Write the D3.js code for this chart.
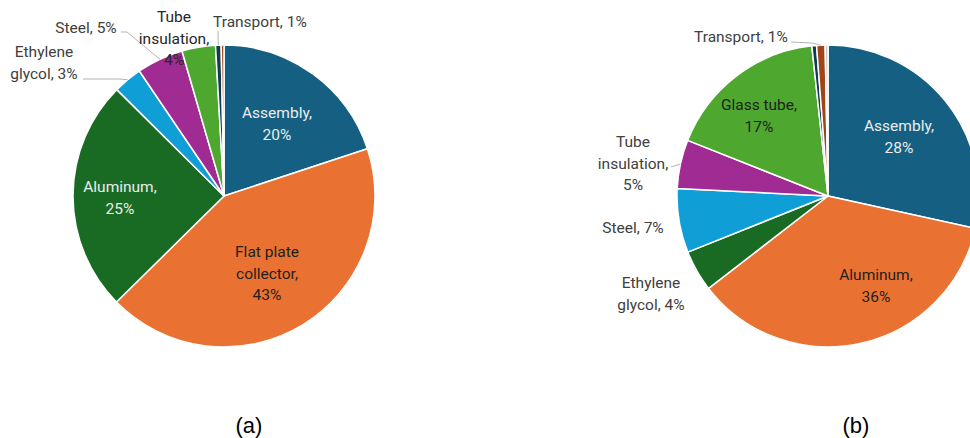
<!DOCTYPE html>
<html>
<head>
<meta charset="utf-8">
<script src="https://cdn.jsdelivr.net/npm/d3@7"></script>
<style>
  html, body { margin: 0; padding: 0; background: #ffffff; }
  svg { display: block; }
</style>
</head>
<body>
<svg id="chart" width="970" height="438"></svg>
<script>
// ---------- DATA ----------
const categoriesA = ["Assembly", "Flat plate collector", "Aluminum", "Ethylene glycol", "Steel", "Tube insulation", "Transport", ""];
const valuesA     = [20.0, 42.8, 24.9, 3.1, 5.0, 3.6, 0.6, 0.3];

const categoriesB = ["Assembly", "Aluminum", "Ethylene glycol", "Steel", "Tube insulation", "Glass tube", "", "Transport", ""];
const valuesB     = [28.3, 35.9, 4.4, 6.8, 5.2, 17.2, 0.5, 0.9, 0.3];

const captions = ["(a)", "(b)"];

// slice colours by series position (Office palette)
const paletteA = ["#156082", "#e97132", "#196b24", "#0f9ed5", "#a02b93", "#4ea72e", "#0e3b52", "#a0441a"];
const paletteB = ["#156082", "#e97132", "#196b24", "#0f9ed5", "#a02b93", "#4ea72e", "#0e3b52", "#a0441a", "#c4c8ca"];

// ---------- LAYOUT ----------
const R = 151;
const charts = [
  {
    cats: categoriesA, vals: valuesA, palette: paletteA, cx: 224, cy: 196,
    caption: { text: captions[0], x: 249, y: 425 },
    labels: {
      "Assembly":             { x: 277, y: 113, words: [1, 1], fill: "#ececec" },
      "Flat plate collector": { x: 267, y: 252, words: [2, 1, 1], fill: "#1f1f1f" },
      "Aluminum":             { x: 120, y: 187, words: [1, 1], fill: "#ececec" },
      "Ethylene glycol":      { x: 44,  y: 52,  words: [1, 2], fill: "#404040", leader: [[83, 79], [120, 79]] },
      "Steel":                { x: 86,  y: 28,  words: [2], fill: "#404040", leader: [[121, 32], [127, 32]] },
      "Tube insulation":      { x: 174, y: 17,  words: [1, 1, 1], fill: "#262626" },
      "Transport":            { x: 213, y: 22,  words: [2], fill: "#404040", anchor: "start", leader: [[218, 31]] }
    }
  },
  {
    cats: categoriesB, vals: valuesB, palette: paletteB, cx: 828, cy: 196,
    caption: { text: captions[1], x: 856, y: 425 },
    labels: {
      "Assembly":        { x: 899, y: 126, words: [1, 1], fill: "#ececec" },
      "Aluminum":        { x: 876, y: 275, words: [1, 1], fill: "#1f1f1f" },
      "Glass tube":      { x: 759, y: 105, words: [2, 1], fill: "#1f1f1f" },
      "Tube insulation": { x: 633, y: 142, words: [1, 1, 1], fill: "#404040", leader: [[671, 167]] },
      "Steel":           { x: 633, y: 228, words: [2], fill: "#404040" },
      "Ethylene glycol": { x: 651, y: 283, words: [1, 2], fill: "#404040" },
      "Transport":       { x: 694, y: 37,  words: [2], fill: "#404040", anchor: "start", leader: [[791, 42], [812, 43]] }
    }
  }
];

const svg = d3.select("#chart");
svg.append("rect").attr("width", 970).attr("height", 438).attr("fill", "#ffffff");

const lineH = 21.3;
const FONT = "Roboto, 'Open Sans', sans-serif";

charts.forEach(ch => {
  const total = d3.sum(ch.vals);
  const pie = d3.pie().sort(null).value(d => d.v);
  const data = ch.cats.map((c, i) => ({ name: c, v: ch.vals[i], i }));
  const arcs = pie(data);
  const arc = d3.arc().innerRadius(0).outerRadius(R);

  const g = svg.append("g").attr("transform", `translate(${ch.cx},${ch.cy})`);

  g.selectAll("path.slice")
    .data(arcs)
    .join("path")
    .attr("class", "slice")
    .attr("d", arc)
    .attr("fill", d => ch.palette[d.data.i])
    .attr("stroke", "#ffffff")
    .attr("stroke-width", 1.5)
    .attr("stroke-linejoin", "round");

  // labels
  arcs.forEach(a => {
    const lab = ch.labels[a.data.name];
    if (!a.data.name || !lab) return;
    const pct = Math.round(a.data.v / total * 100);
    const words = `${a.data.name}, ${pct}%`.split(" ");
    const lines = [];
    let k = 0;
    lab.words.forEach(n => { lines.push(words.slice(k, k + n).join(" ")); k += n; });

    // leader line to the slice's outer mid point
    if (lab.leader) {
      const mid = (a.startAngle + a.endAngle) / 2;
      const px = ch.cx + R * Math.sin(mid);
      const py = ch.cy - R * Math.cos(mid);
      const pts = lab.leader.concat([[px, py]]);
      svg.append("path")
        .attr("d", d3.line()(pts))
        .attr("fill", "none")
        .attr("stroke", "#b4b4b4")
        .attr("stroke-width", 1);
    }

    const t = svg.append("text")
      .attr("font-family", FONT)
      .attr("font-size", 15.5)
      .attr("fill", lab.fill)
      .attr("text-anchor", lab.anchor || "middle");
    lines.forEach((ln, j) => {
      t.append("tspan")
        .attr("x", lab.x)
        .attr("y", lab.y + j * lineH)
        .attr("dy", "0.35em")
        .text(ln);
    });
  });

  svg.append("text")
    .attr("x", ch.caption.x)
    .attr("y", ch.caption.y)
    .attr("dy", "0.35em")
    .attr("text-anchor", "middle")
    .attr("font-family", "'Liberation Sans', Arial, sans-serif")
    .attr("font-size", 22)
    .attr("fill", "#000000")
    .text(ch.caption.text);
});
</script>
</body>
</html>
